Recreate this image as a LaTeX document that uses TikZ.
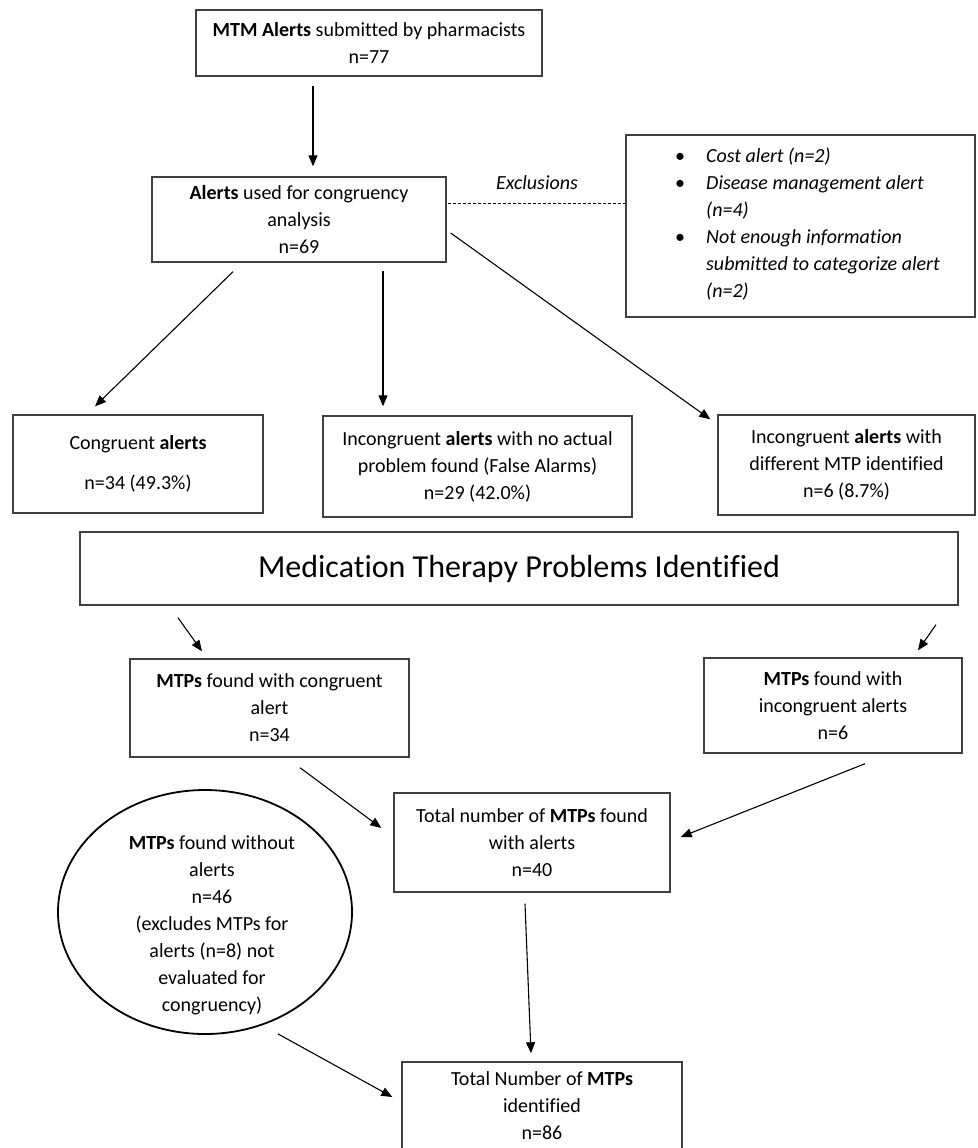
\documentclass[tikz,border=0pt]{standalone}
\usepackage{fontspec}
\setmainfont{Carlito}[Ligatures=NoCommon]
\usetikzlibrary{arrows.meta,calc,shapes.geometric}
\newcommand\exbullet{\llap{\upshape\textbullet\hspace{21pt}}}
\begin{document}
\begin{tikzpicture}[x=1pt,y=-1pt,
  box/.style={draw=black!75, line width=1.4pt, align=center, inner sep=0pt, font=\fontsize{20}{27}\selectfont, text=black},
  arr/.style={line width=1.1pt, -{Triangle[length=11pt,width=9pt]}},
  lbl/.style={font=\fontsize{20}{27}\selectfont, align=center, inner sep=0pt, text=black}
]
\useasboundingbox (0,0) rectangle (977,1148);
\fill[white] (0,0) rectangle (977,1148);
\clip (0,0) rectangle (977,1148);

% top
\node[box, minimum width=346pt, minimum height=66pt] (b1) at (369,43) {\textbf{MTM Alerts} submitted by pharmacists\\n=77};
\node[box, minimum width=294pt, minimum height=85pt] (b2) at (299,219.5) {\textbf{Alerts} used for congruency\\analysis\\n=69};
\node[box, minimum width=349pt, minimum height=182pt] (ex) at (800.5,226) {};
\node[lbl, align=left, anchor=west, font=\fontsize{20}{27}\selectfont\itshape] (exT) at (706,224.5)
  {\exbullet Cost alert (n=2)\\\exbullet Disease management alert\\(n=4)\\\exbullet Not enough information\\submitted to categorize alert\\(n=2)};
\node[lbl, font=\fontsize{20}{27}\selectfont\itshape] (exl) at (537,183) {Exclusions};

% row 3
\node[box, minimum width=250pt, minimum height=98pt] (bA) at (138,464) {Congruent \textbf{alerts}\\[13pt]n=34 (49.3\%)};
\node[box, minimum width=309pt, minimum height=101pt] (bB) at (477.5,466.5) {Incongruent \textbf{alerts} with no actual\\problem found (False Alarms)\\n=29 (42.0\%)};
\node[box, minimum width=257pt, minimum height=100pt] (bC) at (846.5,465) {Incongruent \textbf{alerts} with\\different MTP identified\\n=6 (8.7\%)};

% MTP header
\node[box, minimum width=878pt, minimum height=73pt, font=\fontsize{32}{36}\selectfont] (mtp) at (519,568.5) {Medication Therapy Problems Identified};

% MTP rows
\node[box, minimum width=279pt, minimum height=98pt] (bE) at (269.5,708) {\textbf{MTPs} found with congruent\\alert\\n=34};
\node[box, minimum width=258pt, minimum height=95pt] (bD) at (833,705.5) {\textbf{MTPs} found with\\incongruent alerts\\n=6};
\node[box, minimum width=276pt, minimum height=99pt] (bF) at (532,842.5) {Total number of \textbf{MTPs} found\\with alerts\\n=40};
\node[draw=black, line width=1.8pt, ellipse, inner sep=0pt, minimum width=294pt, minimum height=244pt] (circ) at (205,912) {};
\node[lbl] (circT) at (212,925.5) {\textbf{MTPs} found without\\alerts\\n=46\\(excludes MTPs for\\alerts (n=8) not\\evaluated for\\congruency)};
\node[box, minimum width=280pt, minimum height=88pt] (bG) at (542,1106) {Total Number of \textbf{MTPs}\\identified\\n=86};

% connectors
\draw[arr] ($(b1.south)+(-56,9)$) -- ($(b2.north)+(14,-10)$);
\draw[line width=1pt, dash pattern=on 3pt off 2pt] ($(b2.east)+(1,-16.5)$) -- ($(ex.west)+(0,-23)$);
\draw[arr] ($(b2.south)+(-66,9)$) -- ($(bA.north)+(-43,-8)$);
\draw[arr] ($(b2.south)+(84,8)$) -- ($(bB.north)+(-94.5,-9)$);
\draw[arr] ($(b2.east)+(4,13.5)$) -- ($(bC.north west)+(-7,5)$);
\draw[arr] ($(mtp.south)+(-341,12)$) -- ($(bE.north)+(-67.5,-7)$);
\draw[arr] ($(mtp.south)+(417,19)$) -- ($(bD.north)+(85,-7)$);
\draw[arr] ($(bE.south)+(30.5,10)$) -- ($(bF.west)+(-12,-14.5)$);
\draw[arr] ($(bD.south)+(32,10)$) -- ($(bF.east)+(10,-5.5)$);
\draw[arr] ($(bF.south)+(-7,11)$) -- ($(bG.north)+(-11,-8)$);
\draw[arr] ($(circ.south)+(73,-1)$) -- ($(bG.west)+(-9,-9)$);
\end{tikzpicture}
\end{document}
